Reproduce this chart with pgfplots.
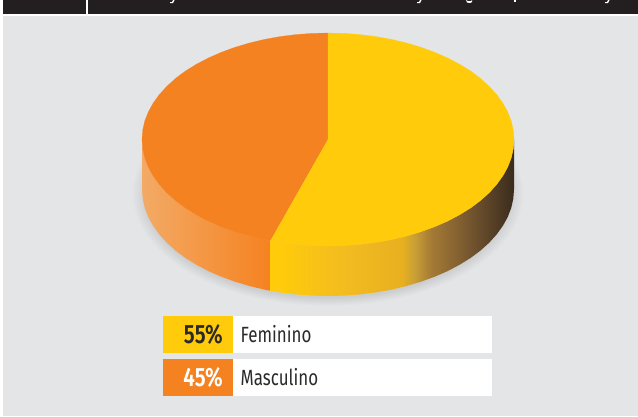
\documentclass[border=0pt]{standalone}
\usepackage{fontspec}
\usepackage{pgfplots}
\usepackage{pgfplotstable}
\pgfplotsset{compat=1.18}
\setmainfont{Fira Sans}
\newfontfamily\cond[FakeStretch=0.77]{Fira Sans}
\newfontfamily\condb[FakeStretch=0.78]{Fira Sans SemiBold}
\definecolor{cYel}{HTML}{FFCB0A}
\definecolor{cOra}{HTML}{F58220}
\definecolor{cOraL}{HTML}{F3AA66}
\definecolor{cBg}{HTML}{E4E5E7}
\definecolor{cBar}{HTML}{231F20}
\definecolor{cTxt}{HTML}{2B2A2B}
\definecolor{wA}{HTML}{F3BC20}
\definecolor{wB}{HTML}{E8B020}
\definecolor{wC}{HTML}{C9A035}
\definecolor{wD}{HTML}{A57A35}
\definecolor{wE}{HTML}{7A5A30}
\definecolor{wF}{HTML}{3A2B1E}
% wall shading, the middle 25..75bp covers x 270..514
\pgfdeclarehorizontalshading{yelside}{100bp}{
  color(0bp)=(cYel); color(27bp)=(cYel); color(40bp)=(wA);
  color(52bp)=(wB); color(54.5bp)=(wC); color(58bp)=(wD);
  color(65bp)=(wE); color(75bp)=(wF); color(100bp)=(wF)}
% top of pie: 55 % is 0..198 deg clockwise, 45 % is 198..360 deg
\pgfplotstableread{
x y
328 139.5
328 33
344.2 33.4
360.3 34.6
376.1 36.6
391.6 39.4
406.6 43
421 47.3
434.7 52.3
447.6 58
459.5 64.2
470.5 71
480.4 78.4
489.1 86.3
496.6 94.5
502.8 103.1
507.7 112
511.2 121
513.3 130.2
514 139.5
513.3 148.8
511.2 158
507.7 167.1
502.8 175.9
496.6 184.5
489.1 192.8
480.4 200.6
470.5 208
459.5 214.8
447.6 221.1
434.7 226.7
421 231.7
406.6 236
391.6 239.6
376.1 242.4
360.3 244.4
344.2 245.6
328 246
311.8 245.6
295.7 244.4
279.9 242.4
270.5 240.8
}\fem
\pgfplotstableread{
x y
328 139.5
270.5 240.8
264.4 239.6
249.4 236
235 231.7
221.3 226.7
208.4 221.1
196.5 214.8
185.5 208
175.6 200.6
166.9 192.8
159.4 184.5
153.2 175.9
148.3 167.1
144.8 158
142.7 148.8
142 139.5
142.7 130.2
144.8 121
148.3 112
153.2 103.1
159.4 94.5
166.9 86.3
175.6 78.4
185.5 71
196.5 64.2
208.4 58
221.3 52.3
235 47.3
249.4 43
264.4 39.4
279.9 36.6
295.7 34.6
311.8 33.4
328 33
}\masc
% walls, top edge and then the same edge 50 px lower
\pgfplotstableread{
x y
514 139.5
513.3 148.8
511.2 158
507.7 167.1
502.8 175.9
496.6 184.5
489.1 192.8
480.4 200.6
470.5 208
459.5 214.8
447.6 221.1
434.7 226.7
421 231.7
406.6 236
391.6 239.6
376.1 242.4
360.3 244.4
344.2 245.6
328 246
311.8 245.6
295.7 244.4
279.9 242.4
270.5 240.8
270.5 290.8
279.9 292.4
295.7 294.4
311.8 295.6
328 296
344.2 295.6
360.3 294.4
376.1 292.4
391.6 289.6
406.6 286
421 281.7
434.7 276.7
447.6 271.1
459.5 264.8
470.5 258
480.4 250.6
489.1 242.8
496.6 234.5
502.8 225.9
507.7 217.1
511.2 208
513.3 198.8
514 189.5
}\femwall
\pgfplotstableread{
x y
270.5 240.8
264.4 239.6
249.4 236
235 231.7
221.3 226.7
208.4 221.1
196.5 214.8
185.5 208
175.6 200.6
166.9 192.8
159.4 184.5
153.2 175.9
148.3 167.1
144.8 158
142.7 148.8
142 139.5
142 189.5
142.7 198.8
144.8 208
148.3 217.1
153.2 225.9
159.4 234.5
166.9 242.8
175.6 250.6
185.5 258
196.5 264.8
208.4 271.1
221.3 276.7
235 281.7
249.4 286
264.4 289.6
270.5 290.8
}\mascwall
\begin{document}
\begin{tikzpicture}
\begin{axis}[
  hide axis, scale only axis, width=638pt, height=416pt,
  xmin=0, xmax=638, ymin=0, ymax=416, y dir=reverse, clip=true,
]
% page furniture
\addplot[draw=none, fill=white] coordinates {(0,0) (638,0) (638,416) (0,416)} -- cycle;
\addplot[draw=none, fill=cBg] coordinates {(3,16) (638,16) (638,416) (3,416)} -- cycle;
\addplot[draw=none, fill=cBar] coordinates {(3,0) (86,0) (86,14) (3,14)} -- cycle;
\addplot[draw=none, fill=cBar] coordinates {(88,0) (638,0) (638,14) (88,14)} -- cycle;
% cut off descenders of the heading
\addplot[draw=none, fill=white] coordinates {(170,2) (172,2) (173,0) (174.5,0) (173,3) (170,3)} -- cycle;
\addplot[draw=none, fill=white] coordinates {(417,2) (419,2) (420,0) (421.5,0) (420,3) (417,3)} -- cycle;
\addplot[draw=none, fill=white] coordinates {(466,0) (468,1) (471,1) (472,0) (472,2) (470,3) (467,2.5)} -- cycle;
\addplot[draw=none, fill=white] coordinates {(514,0) (516,0) (516,2) (514,2)} -- cycle;
\addplot[draw=none, fill=white] coordinates {(605,2) (607,2) (608,0) (609.5,0) (608,3) (605,3)} -- cycle;
% soft shadow under the pie
\pgfplotsinvokeforeach{0.98,0.99,1.00,1.01,1.02,1.03,1.04,1.05}{
  \addplot[draw=none, fill=black, fill opacity=0.011]
    table[x expr={328+(\thisrow{x}-328)*#1}, y expr={194+(\thisrow{y}-139.5)*#1}] {\masc} -- cycle;
  \addplot[draw=none, fill=black, fill opacity=0.011]
    table[x expr={328+(\thisrow{x}-328)*#1}, y expr={194+(\thisrow{y}-139.5)*#1}] {\fem} -- cycle;
}
% walls
\addplot[draw=none, left color=cOraL, right color=cOra] table {\mascwall} -- cycle;
\addplot[draw=none, shading=yelside] table {\femwall} -- cycle;
% top
\addplot[draw=cOra, very thin, fill=cOra] table {\masc} -- cycle;
\addplot[draw=cYel, very thin, fill=cYel] table {\fem} -- cycle;
% legend
\addplot[draw=none, fill=cYel] coordinates {(163,316) (233,316) (233,353) (163,353)} -- cycle;
\addplot[draw=none, fill=white] coordinates {(233,316) (492,316) (492,353) (233,353)} -- cycle;
\addplot[draw=none, fill=cOra] coordinates {(163,359) (233,359) (233,396) (163,396)} -- cycle;
\addplot[draw=none, fill=white] coordinates {(233,359) (492,359) (492,396) (233,396)} -- cycle;
\node[anchor=base east, inner sep=0pt, text=cTxt, font=\fontsize{26.5}{26.5}\selectfont\condb] at (axis cs:223,343) {55\%};
\node[anchor=base east, inner sep=0pt, text=white, font=\fontsize{26.5}{26.5}\selectfont\condb] at (axis cs:223,386) {45\%};
\node[anchor=base west, inner sep=0pt, text=cTxt, font=\fontsize{22}{22}\selectfont\cond] at (axis cs:240.5,342) {Feminino};
\node[anchor=base west, inner sep=0pt, text=cTxt, font=\fontsize{22}{22}\selectfont\cond] at (axis cs:240.5,385) {Masculino};
\end{axis}
\end{tikzpicture}
\end{document}
